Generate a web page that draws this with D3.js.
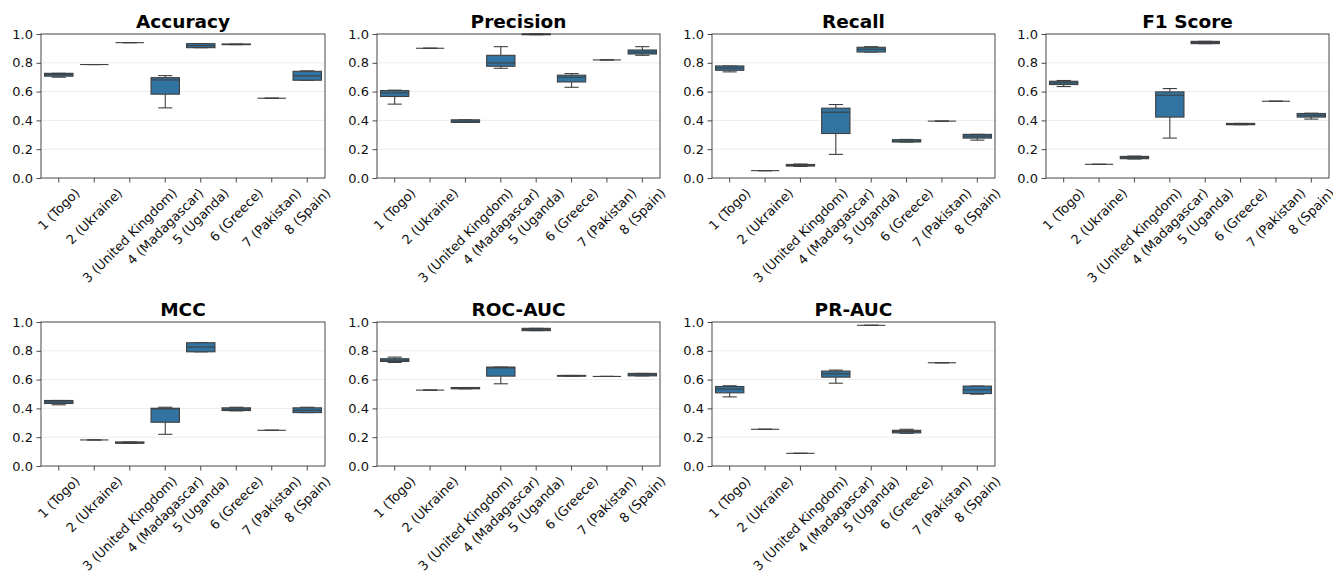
<!DOCTYPE html>
<html><head><meta charset="utf-8">
<script src="https://cdn.jsdelivr.net/npm/d3@7"></script>
<style>body{margin:0;background:#fff} svg text{font-family:"DejaVu Sans",sans-serif}</style>
</head><body><svg id="c" width="1333" height="575"></svg>
<script>
// ---- data ----
const categories = ["1 (Togo)", "2 (Ukraine)", "3 (United Kingdom)", "4 (Madagascar)", "5 (Uganda)", "6 (Greece)", "7 (Pakistan)", "8 (Spain)"];
const yTickValues = [0.0, 0.2, 0.4, 0.6, 0.8, 1.0];
const metricTitles = ["Accuracy", "Precision", "Recall", "F1 Score", "MCC", "ROC-AUC", "PR-AUC"];
// each row: [whiskerLow, q1, median, q3, whiskerHigh]
const accuracy = [
  [0.700, 0.707, 0.718, 0.727, 0.727],
  [0.788, 0.788, 0.788, 0.788, 0.788],
  [0.940, 0.940, 0.940, 0.940, 0.940],
  [0.487, 0.582, 0.681, 0.697, 0.711],
  [0.905, 0.905, 0.919, 0.933, 0.933],
  [0.926, 0.926, 0.928, 0.930, 0.930],
  [0.554, 0.554, 0.554, 0.554, 0.554],
  [0.679, 0.679, 0.709, 0.741, 0.744]
];
const precision = [
  [0.513, 0.566, 0.591, 0.607, 0.610],
  [0.901, 0.901, 0.901, 0.901, 0.901],
  [0.386, 0.386, 0.395, 0.404, 0.404],
  [0.762, 0.776, 0.799, 0.852, 0.912],
  [0.995, 0.995, 0.998, 1.000, 1.000],
  [0.630, 0.667, 0.700, 0.714, 0.725],
  [0.820, 0.820, 0.820, 0.820, 0.820],
  [0.852, 0.861, 0.875, 0.889, 0.912]
];
const recall = [
  [0.737, 0.748, 0.764, 0.778, 0.778],
  [0.051, 0.051, 0.051, 0.051, 0.051],
  [0.080, 0.083, 0.088, 0.094, 0.097],
  [0.164, 0.309, 0.457, 0.485, 0.510],
  [0.875, 0.875, 0.894, 0.908, 0.912],
  [0.250, 0.250, 0.256, 0.266, 0.268],
  [0.395, 0.395, 0.395, 0.395, 0.395],
  [0.263, 0.277, 0.291, 0.303, 0.303]
];
const f1Score = [
  [0.635, 0.649, 0.661, 0.672, 0.677],
  [0.095, 0.095, 0.095, 0.095, 0.095],
  [0.132, 0.134, 0.141, 0.150, 0.152],
  [0.277, 0.423, 0.575, 0.598, 0.621],
  [0.933, 0.933, 0.942, 0.949, 0.949],
  [0.370, 0.370, 0.374, 0.379, 0.379],
  [0.533, 0.533, 0.533, 0.533, 0.533],
  [0.409, 0.423, 0.436, 0.448, 0.450]
];
const mcc = [
  [0.425, 0.434, 0.445, 0.455, 0.455],
  [0.181, 0.181, 0.181, 0.181, 0.181],
  [0.158, 0.158, 0.162, 0.167, 0.167],
  [0.220, 0.304, 0.397, 0.401, 0.408],
  [0.793, 0.793, 0.826, 0.856, 0.856],
  [0.383, 0.385, 0.394, 0.404, 0.408],
  [0.248, 0.248, 0.248, 0.248, 0.248],
  [0.371, 0.371, 0.387, 0.404, 0.408]
];
const rocAuc = [
  [0.719, 0.726, 0.735, 0.745, 0.756],
  [0.527, 0.527, 0.527, 0.527, 0.527],
  [0.536, 0.536, 0.541, 0.545, 0.545],
  [0.571, 0.624, 0.682, 0.687, 0.687],
  [0.940, 0.940, 0.949, 0.956, 0.956],
  [0.624, 0.624, 0.626, 0.629, 0.629],
  [0.622, 0.622, 0.622, 0.622, 0.622],
  [0.626, 0.626, 0.633, 0.643, 0.643]
];
const prAuc = [
  [0.480, 0.508, 0.534, 0.552, 0.557],
  [0.255, 0.255, 0.255, 0.255, 0.255],
  [0.088, 0.088, 0.088, 0.088, 0.088],
  [0.575, 0.617, 0.640, 0.659, 0.666],
  [0.977, 0.977, 0.977, 0.977, 0.977],
  [0.227, 0.230, 0.239, 0.248, 0.255],
  [0.717, 0.717, 0.717, 0.717, 0.717],
  [0.499, 0.503, 0.529, 0.555, 0.555]
];
const metricData = [accuracy, precision, recall, f1Score, mcc, rocAuc, prAuc];

// ---- layout ----
const colX = [[41, 325], [377, 660], [712, 995], [1046, 1329]];
const rowY = [[34, 178], [322, 466]];
const fontSize = 13;
const tickLen = 4.5, tickPad = 3.5;
const boxFill = "#3274a1", lineCol = "#3f3f3f";

const svg = d3.select("#c");

metricTitles.forEach((title, i) => {
  const data = metricData[i];
  const [l, r] = colX[i % 4];
  const [t, b] = rowY[Math.floor(i / 4)];
  const x = d3.scaleBand().domain(categories).range([l, r]).padding(0);
  const y = d3.scaleLinear().domain([0, 1]).range([b, t]);
  const g = svg.append("g");

  // grid
  g.append("g").selectAll("line").data(yTickValues.filter(v => v > 0 && v < 1)).join("line")
    .attr("x1", l).attr("x2", r).attr("y1", d => y(d)).attr("y2", d => y(d))
    .attr("stroke", "#b0b0b0").attr("stroke-opacity", 0.3).attr("stroke-width", 0.8);

  // boxes
  const bw = x.bandwidth() * 0.8;
  const cw = bw * 0.5;
  const items = g.append("g").selectAll("g").data(data.map((s, k) => ({ s, c: categories[k] }))).join("g");
  items.each(function (d) {
    const sel = d3.select(this);
    const cx = x(d.c) + x.bandwidth() / 2;
    const [lo, q1, med, q3, hi] = d.s;
    sel.append("line").attr("x1", cx).attr("x2", cx).attr("y1", y(q1)).attr("y2", y(lo))
      .attr("stroke", lineCol).attr("stroke-width", 1.1);
    sel.append("line").attr("x1", cx).attr("x2", cx).attr("y1", y(q3)).attr("y2", y(hi))
      .attr("stroke", lineCol).attr("stroke-width", 1.1);
    sel.append("line").attr("x1", cx - cw / 2).attr("x2", cx + cw / 2).attr("y1", y(lo)).attr("y2", y(lo))
      .attr("stroke", lineCol).attr("stroke-width", 1.1);
    sel.append("line").attr("x1", cx - cw / 2).attr("x2", cx + cw / 2).attr("y1", y(hi)).attr("y2", y(hi))
      .attr("stroke", lineCol).attr("stroke-width", 1.1);
    sel.append("rect").attr("x", cx - bw / 2).attr("width", bw)
      .attr("y", y(q3)).attr("height", Math.max(0, y(q1) - y(q3)))
      .attr("fill", boxFill).attr("stroke", lineCol).attr("stroke-width", 1.1);
    sel.append("line").attr("x1", cx - bw / 2).attr("x2", cx + bw / 2).attr("y1", y(med)).attr("y2", y(med))
      .attr("stroke", lineCol).attr("stroke-width", 1.1);
  });

  // y axis
  const ya = g.append("g").attr("transform", `translate(${l},0)`)
    .call(d3.axisLeft(y).tickValues(yTickValues).tickFormat(d3.format(".1f")).tickSize(tickLen).tickPadding(tickPad));
  ya.select(".domain").remove();
  ya.selectAll("text").attr("font-size", fontSize).attr("font-family", "DejaVu Sans").attr("fill", "#111");
  ya.selectAll("line").attr("stroke", "#333").attr("stroke-width", 0.9);

  // x axis
  const xa = g.append("g").attr("transform", `translate(0,${b})`)
    .call(d3.axisBottom(x).tickSize(tickLen).tickPadding(tickPad));
  xa.select(".domain").remove();
  xa.selectAll("line").attr("stroke", "#333").attr("stroke-width", 0.9);
  xa.selectAll("text").attr("font-size", fontSize).attr("font-family", "DejaVu Sans").attr("fill", "#111")
    .each(function () {
      const w = this.getComputedTextLength();
      const h = fontSize * 1.0;
      const half = (w + h) * Math.SQRT1_2 / 2;
      d3.select(this).attr("x", 0).attr("y", 0).attr("dy", "0.35em").attr("text-anchor", "middle")
        .attr("transform", `translate(0,${tickLen + tickPad + half}) rotate(-45)`);
    });

  // spines
  g.append("rect").attr("x", l).attr("y", t).attr("width", r - l).attr("height", b - t)
    .attr("fill", "none").attr("stroke", "#333").attr("stroke-width", 0.9);

  // title
  g.append("text").attr("x", (l + r) / 2).attr("y", t - 6).attr("text-anchor", "middle")
    .attr("font-size", 18.5).attr("font-weight", "bold").attr("fill", "#000").text(title);
});
</script></body></html>
